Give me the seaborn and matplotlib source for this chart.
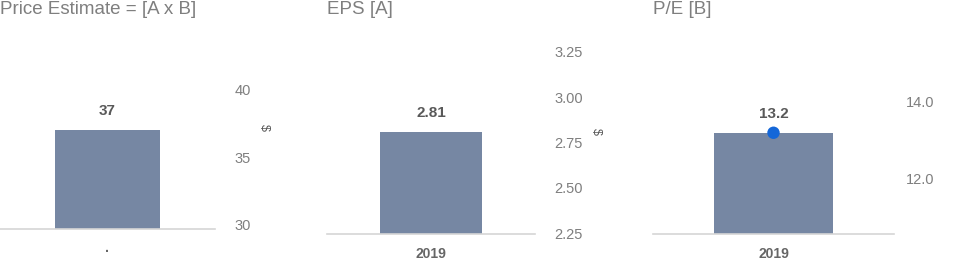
import matplotlib
matplotlib.use("Agg")
import matplotlib.pyplot as plt
import seaborn as sns
import pandas as pd

sns.set_theme(style="white")
plt.rcParams['font.family'] = ['Liberation Sans', 'DejaVu Sans']

# ---- data ----
titles = ["Price Estimate = [A x B]", "EPS [A]", "P/E [B]"]
categories = [["."], ["2019"], ["2019"]]
values = [[37], [2.81], [13.2]]
value_labels = [["37"], ["2.81"], ["13.2"]]
right_ticks = [[30, 35, 40], [2.25, 2.50, 2.75, 3.00, 3.25], [12.0, 14.0]]
right_tick_labels = [["30", "35", "40"], ["2.25", "2.50", "2.75", "3.00", "3.25"], ["12.0", "14.0"]]
ylims = [(29.63, 43.73), (2.2445, 3.316), (10.57, 15.61)]
right_label = ["$", "$", ""]
marker_values = [None, None, [13.2]]

W, H = 958, 266
fig = plt.figure(figsize=(W / 100, H / 100), dpi=100)

# pixel layout: (left, right, baseline, top)
boxes = [(0, 215, 229, 40), (327, 535, 234, 40), (653, 894, 234, 40)]
label_pads = [14.0, 14.0, 8.6]
dollar_pos = [(270, 128), (602, 131), None]

bar_color = "#7687a3"
tick_color = "#7f7f7f"

for i in range(3):
    l, r, b, t = boxes[i]
    ax = fig.add_axes([l / W, (H - b) / H, (r - l) / W, (b - t) / H])
    df = pd.DataFrame({"cat": categories[i], "val": values[i]})
    sns.barplot(data=df, x="cat", y="val", ax=ax, color=bar_color,
                saturation=1, width=0.49, edgecolor="none")
    ax.set_xlim(-0.5, 0.5)
    ax.set_ylim(*ylims[i])
    ax.set_xlabel("")
    ax.set_ylabel("")
    ax.set_yticks([])
    for s in ["top", "left", "right"]:
        ax.spines[s].set_visible(False)
    ax.spines["bottom"].set_color("#d6d6d6")
    ax.spines["bottom"].set_linewidth(1.2)
    ax.tick_params(axis="x", length=0, pad=9, labelsize=10, labelcolor="#666666")
    for lab in ax.get_xticklabels():
        lab.set_fontweight("bold")

    for j, (c, v) in enumerate(zip(categories[i], values[i])):
        ax.annotate(value_labels[i][j], xy=(j, v), xytext=(0, 13.7),
                    textcoords="offset points", ha="center", va="center",
                    fontsize=11, fontweight="bold", color="#595959")

    if marker_values[i] is not None:
        mdf = pd.DataFrame({"cat": categories[i], "val": marker_values[i]})
        sns.scatterplot(data=mdf, x="cat", y="val", ax=ax, color="#1467d8",
                        s=80, edgecolor="none", zorder=5, legend=False)
        ax.set_xlim(-0.5, 0.5)
        ax.set_xlabel("")
        ax.set_ylabel("")

    ax2 = ax.twinx()
    ax2.set_ylim(*ylims[i])
    ax2.set_yticks(right_ticks[i])
    ax2.set_yticklabels(right_tick_labels[i])
    ax2.tick_params(axis="y", length=0, pad=label_pads[i], labelsize=10.5, labelcolor=tick_color)
    for s in ax2.spines.values():
        s.set_visible(False)
    if right_label[i]:
        ax2.set_ylabel(right_label[i], rotation=270, fontsize=9, color="#555555")
        dx, dy = dollar_pos[i]
        ax2.yaxis.set_label_coords((dx - l) / (r - l), (b - dy) / (b - t))

    fig.text(l / W, (H - 14) / H, titles[i],
             fontsize=13.5, color="#7f7f7f", ha="left", va="baseline")

fig.savefig("out.png", dpi=100)
